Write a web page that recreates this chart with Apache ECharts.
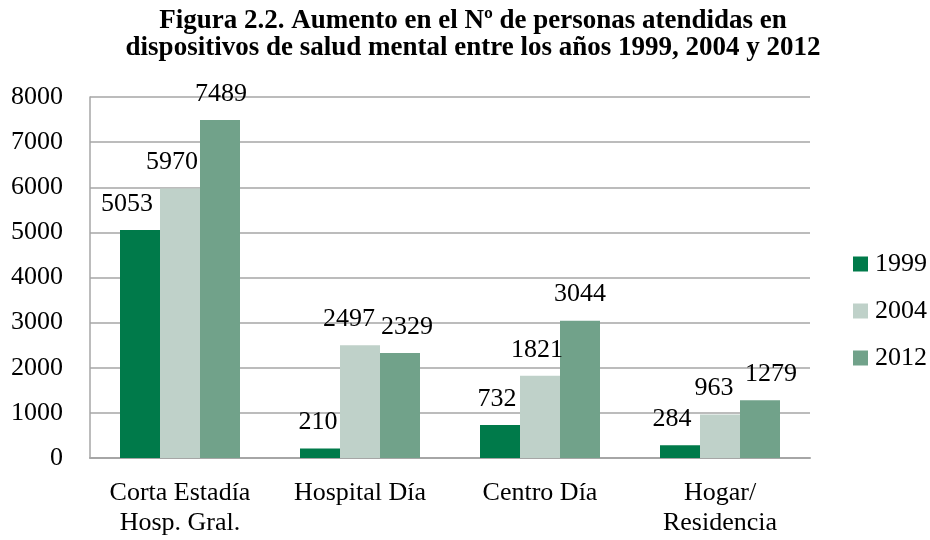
<!DOCTYPE html>
<html><head><meta charset="utf-8">
<script src="https://cdn.jsdelivr.net/npm/echarts@6/dist/echarts.min.js"></script>
<style>html,body{margin:0;padding:0;background:#fff}#c{width:930px;height:540px}</style>
</head><body><div id="c"></div>
<script>
const categories = ['Corta Estadía\nHosp. Gral.', 'Hospital Día', 'Centro Día', 'Hogar/\nResidencia'];
const seriesNames = ['1999', '2004', '2012'];
const values1999 = [5053, 210, 732, 284];
const values2004 = [5970, 2497, 1821, 963];
const values2012 = [7489, 2329, 3044, 1279];
const yTicks = [0, 1000, 2000, 3000, 4000, 5000, 6000, 7000, 8000];

// styling only: horizontal nudges of value labels to match the reference layout
const labelShift1999 = [-13, -2, -3, -8];
const labelShift2004 = [-8, -11, -3, -6];
const labelShift2012 = [1, 7, 0, 11];

const colors = ['#007A4A', '#BFD1C9', '#71A28A'];
const font = '"Liberation Serif", "Times New Roman", serif';

const chart = echarts.init(document.getElementById('c'), null, {renderer: 'canvas'});
const mk = (name, vals, shifts, color) => ({
  name, type: 'bar', barWidth: 40, barGap: '0%',
  data: vals.map((v, i) => ({value: v, label: {offset: [shifts[i], 0]}})),
  itemStyle: {color},
  label: {show: true, position: 'top', distance: 13, color: '#000', fontFamily: font, fontSize: 26}
});
chart.setOption({
  animation: false,
  textStyle: {fontFamily: font},
  title: {
    text: 'Figura 2.2. Aumento en el Nº de personas atendidas en\ndispositivos de salud mental entre los años 1999, 2004 y 2012',
    left: 473, top: 8, textAlign: 'center', padding: 0,
    textStyle: {fontFamily: font, fontWeight: 'bold', fontSize: 27, lineHeight: 27, color: '#000'}
  },
  legend: {
    orient: 'vertical', left: 853, top: 251, itemGap: 21, padding: 0,
    itemWidth: 15, itemHeight: 15, icon: 'rect',
    textStyle: {fontFamily: font, fontSize: 26, color: '#000', padding: [0,0,0,2]},
    data: seriesNames
  },
  grid: {left: 90, right: 120, top: 97, bottom: 82},
  xAxis: {
    type: 'category', data: categories,
    axisLine: {lineStyle: {color: '#A6A6A6', width: 2}},
    axisTick: {show: false},
    axisLabel: {interval: 0, fontFamily: font, fontSize: 26, color: '#000', margin: 20, lineHeight: 30}
  },
  yAxis: {
    type: 'value', min: yTicks[0], max: yTicks[yTicks.length - 1], interval: yTicks[1] - yTicks[0],
    axisLine: {show: true, lineStyle: {color: '#A6A6A6', width: 1.5}},
    axisTick: {show: false},
    splitLine: {lineStyle: {color: '#A6A6A6', width: 1.5}},
    axisLabel: {fontFamily: font, fontSize: 26, color: '#000', margin: 27, formatter: v => String(v)}
  },
  series: [
    mk(seriesNames[0], values1999, labelShift1999, colors[0]),
    mk(seriesNames[1], values2004, labelShift2004, colors[1]),
    mk(seriesNames[2], values2012, labelShift2012, colors[2])
  ]
});
</script></body></html>
